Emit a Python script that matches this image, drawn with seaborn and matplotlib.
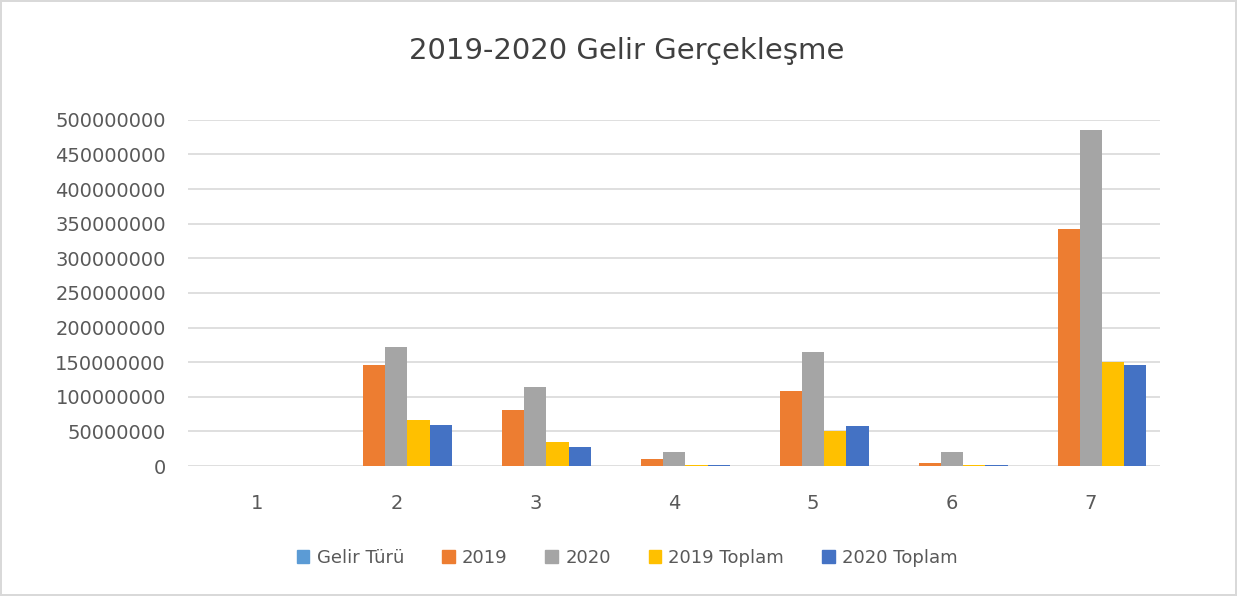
import matplotlib.pyplot as plt
import matplotlib.ticker as mticker
import pandas as pd
import seaborn as sns

# values (approximate)
categories = ['1', '2', '3', '4', '5', '6', '7']
gelir_turu = [1, 2, 3, 4, 5, 6, 7]
y2019 = [500000, 146000000, 81000000, 10000000, 108000000, 5000000, 342000000]
y2020 = [300000, 172000000, 114000000, 20000000, 165000000, 20000000, 485000000]
y2019_toplam = [0, 66000000, 35000000, 2000000, 50000000, 1500000, 150000000]
y2020_toplam = [0, 59000000, 27000000, 2000000, 58000000, 1500000, 146000000]

series = ['Gelir Türü', '2019', '2020', '2019 Toplam', '2020 Toplam']
colors = ['#5B9BD5', '#ED7D31', '#A5A5A5', '#FFC000', '#4472C4']

df = pd.DataFrame({'cat': categories, 'Gelir Türü': gelir_turu, '2019': y2019,
                   '2020': y2020, '2019 Toplam': y2019_toplam, '2020 Toplam': y2020_toplam})
df_long = df.melt(id_vars='cat', var_name='seri', value_name='deger')

sns.set_style('white')
plt.rcParams['font.family'] = ['DejaVu Sans']

fig = plt.figure(figsize=(12.37, 5.96), dpi=100)
fig.patch.set_edgecolor('#d9d9d9')
fig.patch.set_linewidth(1.5)
ax = fig.add_axes([0.152, 0.218, 0.786, 0.581])

sns.barplot(data=df_long, x='cat', y='deger', hue='seri', hue_order=series,
            palette=colors, width=0.8, ax=ax, legend=False, saturation=1,
            edgecolor='none')

ax.set_ylim(0, 500000000)
ax.yaxis.set_major_locator(mticker.MultipleLocator(50000000))
ax.yaxis.set_major_formatter(mticker.FuncFormatter(lambda v, p: f'{int(v)}'))
ax.grid(axis='y', color='#d9d9d9', linewidth=1.2)
ax.set_axisbelow(True)
for s in ax.spines.values():
    s.set_visible(False)
ax.set_xlabel('')
ax.set_ylabel('')
ax.tick_params(axis='y', labelsize=14, colors='#595959', length=0, pad=16)
ax.tick_params(axis='x', labelsize=14, colors='#595959', length=0, pad=20)

fig.text(0.507, 0.915, '2019-2020 Gelir Gerçekleşme', ha='center', va='center',
         fontsize=21, color='#404040')

handles = [plt.Rectangle((0, 0), 1, 1, color=c) for c in colors]
fig.legend(handles, series, loc='center', bbox_to_anchor=(0.507, 0.064), ncol=5,
           frameon=False, fontsize=13, labelcolor='#595959', handlelength=0.7,
           handleheight=0.7, handletextpad=0.4, columnspacing=2.1)

fig.savefig('out.png', dpi=100, facecolor='white', edgecolor=fig.get_edgecolor())
